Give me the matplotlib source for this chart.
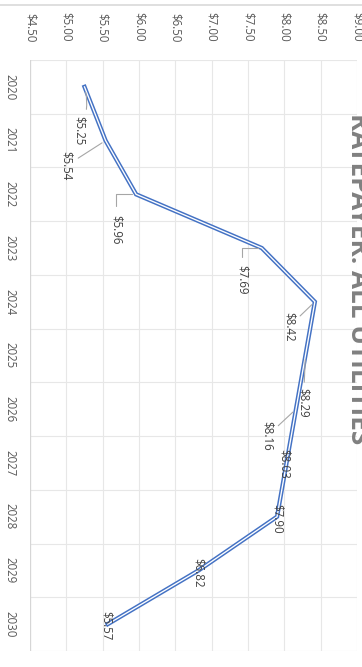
import matplotlib
matplotlib.use("Agg")
import matplotlib.pyplot as plt
from matplotlib.lines import Line2D

years = ["2020", "2021", "2022", "2023", "2024", "2025", "2026", "2027", "2028", "2029", "2030"]
rates = [5.25, 5.54, 5.96, 7.69, 8.42, 8.29, 8.16, 8.03, 7.90, 6.82, 5.57]
rate_ticks = [4.50, 5.00, 5.50, 6.00, 6.50, 7.00, 7.50, 8.00, 8.50, 9.00]
title = "RATEPAYER: ALL UTILITIES"

# label offsets (pixels) from each point, and leader-line style
label_offsets = [(-5, 44), (-39, 25), (-20, 35), (-20, 32), (-26, 25),
                 (-2, 47), (-29, 27), (-2, 1), (0, 2), (0, 2), (-2, 2)]
leader = ["arc", "line", "angle", "angle", "line", "line", "line",
          None, None, None, None]

W, H = 362, 667
plt.rcParams["font.family"] = ["Open Sans", "DejaVu Sans"]
fig = plt.figure(figsize=(W / 100, H / 100), dpi=100)
fig.patch.set_facecolor("white")

left, right, top, bottom = 30, 357, 60, 651
ax = fig.add_axes([left / W, 1 - bottom / H, (right - left) / W, (bottom - top) / H])

ypos = list(range(len(years)))
ax.set_xlim(4.5, 9.0)
ax.set_ylim(len(years) - 0.5, -0.5)

# gridlines
for t in rate_ticks:
    ax.axvline(t, color="#e7e7e7", lw=0.8, zorder=0)
for k in range(len(years) + 1):
    ax.axhline(k - 0.5, color="#e7e7e7", lw=0.8, zorder=0)
ax.axvline(4.5, color="#d6d6d6", lw=0.9, zorder=1)

for s in ax.spines.values():
    s.set_visible(False)

ax.set_xticks(rate_ticks)
ax.set_xticklabels([f"${t:.2f}" for t in rate_ticks], rotation=-90,
                   fontsize=8.3, color="#595959")
ax.xaxis.tick_top()
ax.tick_params(axis="x", length=0, pad=13)
for lbl in ax.get_xticklabels():
    lbl.set_va("bottom")

ax.set_yticks(ypos)
ax.set_yticklabels(years, rotation=-90, fontsize=8.3, color="#595959",
                   va="center")
ax.tick_params(axis="y", length=0, pad=10)

# double line: blue outer stroke with white core
ax.plot(rates, ypos, color="#4472C4", lw=3.1, solid_joinstyle="miter",
        zorder=3)
ax.plot(rates, ypos, color="white", lw=0.95, solid_joinstyle="miter",
        zorder=4)

for r, yv, (dx, dy), ld in zip(rates, ypos, label_offsets, leader):
    props = None
    if ld == "line":
        props = dict(arrowstyle="-", color="#a6a6a6", lw=0.8,
                     shrinkA=2, shrinkB=3)
    elif ld == "angle":
        props = dict(arrowstyle="-", color="#a6a6a6", lw=0.8,
                     connectionstyle="angle,angleA=-90,angleB=0,rad=0",
                     shrinkA=4, shrinkB=3)
    elif ld == "arc":
        props = dict(arrowstyle="-", color="#a6a6a6", lw=0.8,
                     connectionstyle="arc3,rad=0.2", shrinkA=3, shrinkB=4)
    ax.annotate(f"${r:.2f}", xy=(r, yv), xytext=(dx, -dy),
                textcoords="offset pixels", rotation=-90,
                ha="center", va="center", fontsize=8.3, color="#404040",
                arrowprops=props, zorder=5)

# title along the right edge
fig.text(345 / W, 1 - 279 / H, title, rotation=-90, ha="left", va="center",
         fontsize=18.8, fontweight="bold", color="#808080")

# chart border across the top
fig.add_artist(Line2D([0, 1], [1 - 4.5 / H, 1 - 4.5 / H],
                      transform=fig.transFigure, color="#d9d9d9", lw=1.2))

fig.savefig("out.png", dpi=100)
